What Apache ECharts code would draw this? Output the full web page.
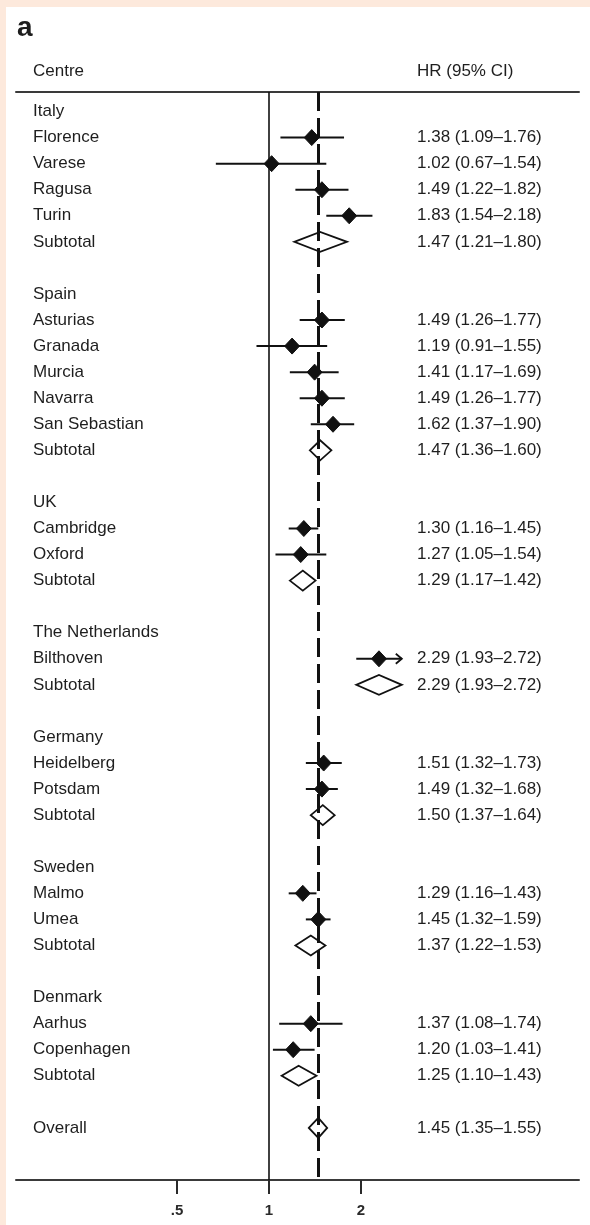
<!DOCTYPE html>
<html>
<head>
<meta charset="utf-8">
<title>Forest plot</title>
<script src="https://cdn.jsdelivr.net/npm/echarts@6/dist/echarts.min.js"></script>
<style>
  html, body { margin: 0; padding: 0; background: #fde9dc; }
  #forestPlot { position: absolute; left: 6px; top: 7px; width: 584px; height: 1218px; background: #fff; }
</style>
</head>
<body>
<div id="forestPlot"></div>
<script>
// one entry per row of the table, '' = spacer row
const rowLabels = [
  'Italy', 'Florence', 'Varese', 'Ragusa', 'Turin', 'Subtotal', '',
  'Spain', 'Asturias', 'Granada', 'Murcia', 'Navarra', 'San Sebastian', 'Subtotal', '',
  'UK', 'Cambridge', 'Oxford', 'Subtotal', '',
  'The Netherlands', 'Bilthoven', 'Subtotal', '',
  'Germany', 'Heidelberg', 'Potsdam', 'Subtotal', '',
  'Sweden', 'Malmo', 'Umea', 'Subtotal', '',
  'Denmark', 'Aarhus', 'Copenhagen', 'Subtotal', '',
  'Overall',
];
const hr = [
  null, 1.38, 1.02, 1.49, 1.83, 1.47, null,
  null, 1.49, 1.19, 1.41, 1.49, 1.62, 1.47, null,
  null, 1.30, 1.27, 1.29, null,
  null, 2.29, 2.29, null,
  null, 1.51, 1.49, 1.50, null,
  null, 1.29, 1.45, 1.37, null,
  null, 1.37, 1.20, 1.25, null,
  1.45,
];
const ciLow = [
  null, 1.09, 0.67, 1.22, 1.54, 1.21, null,
  null, 1.26, 0.91, 1.17, 1.26, 1.37, 1.36, null,
  null, 1.16, 1.05, 1.17, null,
  null, 1.93, 1.93, null,
  null, 1.32, 1.32, 1.37, null,
  null, 1.16, 1.32, 1.22, null,
  null, 1.08, 1.03, 1.10, null,
  1.35,
];
const ciHigh = [
  null, 1.76, 1.54, 1.82, 2.18, 1.80, null,
  null, 1.77, 1.55, 1.69, 1.77, 1.90, 1.60, null,
  null, 1.45, 1.54, 1.42, null,
  null, 2.72, 2.72, null,
  null, 1.73, 1.68, 1.64, null,
  null, 1.43, 1.59, 1.53, null,
  null, 1.74, 1.41, 1.43, null,
  1.55,
];
// studies whose CI is drawn with an arrow head
const arrowRows = ['Bilthoven'];
const tickValues = [0.5, 1, 2];
const tickLabels = ['.5', '1', '2'];
const nullLine = 1;

const TEXT = '#1e1e1e';
const FONT = 'Liberation Sans, Arial, sans-serif';
const FS = 17;

const isPooled = (label) => label === 'Subtotal' || label === 'Overall';
const overallHr = hr[rowLabels.indexOf('Overall')];
const fmt = (v) => v.toFixed(2);

// [hr, row, low, high, pooled, arrow]
const plotData = [];
rowLabels.forEach((label, i) => {
  if (hr[i] == null) return;
  plotData.push([hr[i], i, ciLow[i], ciHigh[i], isPooled(label) ? 1 : 0, arrowRows.includes(label) ? 1 : 0]);
});
const labelRows = rowLabels.map((l, i) => i).filter((i) => rowLabels[i] !== '');
const ciRows = rowLabels.map((l, i) => i).filter((i) => hr[i] != null);

function renderItem(params, api) {
  const row = api.value(1);
  const mid = api.coord([api.value(0), row]);
  const lo = api.coord([api.value(2), row]);
  const hi = api.coord([api.value(3), row]);
  const y = mid[1];
  if (api.value(4)) {
    const h = 10;
    return {
      type: 'polygon',
      shape: { points: [[lo[0], y], [mid[0], y - h], [hi[0], y], [mid[0], y + h]] },
      style: { fill: 'none', stroke: '#111', lineWidth: 1.8 },
    };
  }
  const children = [
    { type: 'line', shape: { x1: lo[0], y1: y, x2: hi[0], y2: y }, style: { stroke: '#111', lineWidth: 2 } },
    {
      type: 'polygon',
      shape: { points: [[mid[0] - 7.5, y], [mid[0], y - 8], [mid[0] + 7.5, y], [mid[0], y + 8]] },
      style: { fill: '#111', stroke: '#111', lineWidth: 1 },
    },
  ];
  if (api.value(5)) {
    children.push({
      type: 'polyline',
      shape: { points: [[hi[0] - 6, y - 5], [hi[0], y], [hi[0] - 6, y + 5]] },
      style: { fill: 'none', stroke: '#111', lineWidth: 1.8 },
    });
  }
  return { type: 'group', children };
}

const chart = echarts.init(document.getElementById('forestPlot'));
const option = {
  animation: false,
  backgroundColor: '#fff',
  title: [
    { text: 'a', left: 11, top: 7, padding: 0, textStyle: { fontFamily: FONT, fontWeight: 'bold', fontSize: 28, color: TEXT } },
    { text: 'Centre', left: 27, top: 56, padding: 0, textStyle: { fontFamily: FONT, fontWeight: 'normal', fontSize: FS, lineHeight: 17, color: TEXT } },
    { text: 'HR (95% CI)', left: 411, top: 56, padding: 0, textStyle: { fontFamily: FONT, fontWeight: 'normal', fontSize: FS, lineHeight: 17, color: TEXT } },
  ],
  grid: { left: 10, right: 11, top: 85, bottom: 45 },
  xAxis: [
    {
      type: 'log',
      logBase: 2,
      min: 0.14865,
      max: 10.336,
      axisLine: { onZero: false, lineStyle: { color: '#3a3a3a', width: 2 } },
      axisTick: { customValues: tickValues, length: 14, lineStyle: { color: '#2a2a2a', width: 2 } },
      axisLabel: {
        customValues: tickValues,
        margin: 23,
        fontFamily: FONT,
        fontSize: 15,
        fontWeight: 'bold',
        color: '#2a2a2a',
        formatter: (v) => {
          const k = tickValues.findIndex((t) => Math.abs(t - v) < 1e-6);
          return k >= 0 ? tickLabels[k] : '';
        },
      },
      splitLine: { show: false },
    },
    {
      // header rule
      type: 'value',
      position: 'top',
      min: 0,
      max: 1,
      axisLine: { show: true, onZero: false, lineStyle: { color: '#3a3a3a', width: 2 } },
      axisTick: { show: false },
      axisLabel: { show: false },
      splitLine: { show: false },
    },
  ],
  yAxis: [
    {
      type: 'value',
      inverse: true,
      min: -0.75,
      max: 41,
      axisLine: { show: false, onZero: false },
      axisTick: { show: false },
      splitLine: { show: false },
      axisLabel: {
        customValues: labelRows,
        align: 'left',
        margin: -17,
        fontFamily: FONT,
        fontSize: FS,
        color: TEXT,
        formatter: (v) => rowLabels[Math.round(v)],
      },
    },
    {
      type: 'value',
      position: 'right',
      inverse: true,
      min: -0.75,
      max: 41,
      axisLine: { show: false, onZero: false },
      axisTick: { show: false },
      splitLine: { show: false },
      axisLabel: {
        customValues: ciRows,
        align: 'left',
        margin: -162,
        fontFamily: FONT,
        fontSize: FS,
        color: TEXT,
        formatter: (v) => {
          const i = Math.round(v);
          return fmt(hr[i]) + ' (' + fmt(ciLow[i]) + '\u2013' + fmt(ciHigh[i]) + ')';
        },
      },
    },
  ],
  series: [
    {
      type: 'custom',
      xAxisIndex: 0,
      yAxisIndex: 0,
      z: 3,
      renderItem,
      encode: { x: 0, y: 1 },
      data: plotData,
      markLine: {
        silent: true,
        symbol: 'none',
        z: 1,
        label: { show: false },
        data: [
          { xAxis: nullLine, lineStyle: { color: '#111', width: 1.6, type: 'solid' } },
          { xAxis: overallHr, lineStyle: { color: '#111', width: 3, type: [19, 7] } },
        ],
      },
    },
  ],
};
chart.setOption(option);
</script>
</body>
</html>
